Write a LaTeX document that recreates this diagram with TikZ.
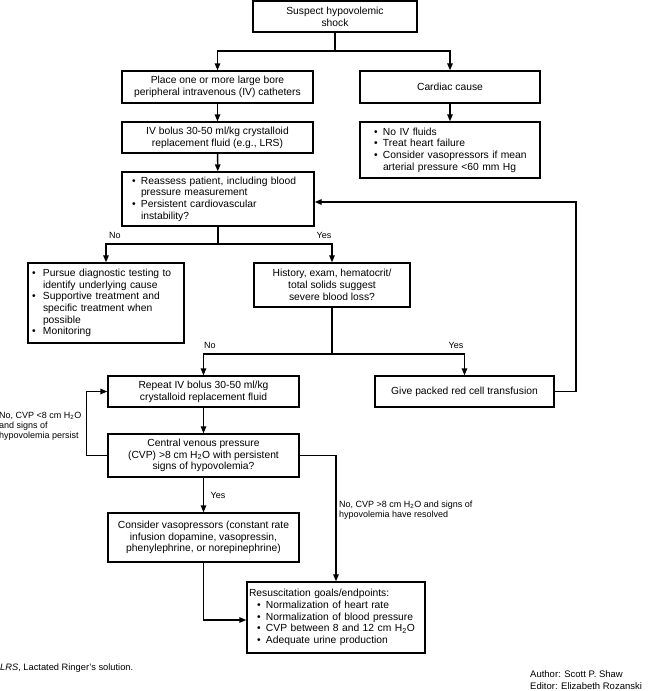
\documentclass[tikz,border=0pt]{standalone}
\usepackage{fontspec}
\setmainfont{Liberation Sans}
\usetikzlibrary{arrows.meta}
\newcommand{\bl}[1]{\mbox{\makebox[9pt][l]{\textbullet}#1}}
\newcommand{\cl}[1]{\mbox{\hspace*{9pt}#1}}
\newcommand{\blw}[1]{\mbox{\makebox[11pt][l]{\textbullet}#1}}
\newcommand{\clw}[1]{\mbox{\hspace*{11pt}#1}}
\begin{document}
\begin{tikzpicture}[x=1pt,y=-1pt,
  box/.style={draw, line width=1.4pt, inner sep=0pt, font=\fontsize{10.3}{11.7}\selectfont},
  cbox/.style={box, align=center},
  arr/.style={line width=1.4pt, -{Triangle[length=7pt,width=5.5pt]}},
  ln/.style={line width=1.4pt},
  lbl/.style={font=\fontsize{9}{10}\selectfont, inner sep=0pt}]
\useasboundingbox (0,0) rectangle (650,691);

% boxes
\node[cbox, minimum width=164pt, minimum height=31pt] (top) at (335,16.5) {Suspect hypovolemic\\shock};
\node[cbox, minimum width=191pt, minimum height=32pt] (place) at (217.5,87) {Place one or more large bore\\peripheral intravenous (IV) catheters};
\node[cbox, minimum width=180pt, minimum height=32pt] (cardiac) at (450,87) {Cardiac cause};
\node[cbox, minimum width=191pt, minimum height=31pt] (ivbolus) at (217.5,137.5) {IV bolus 30-50 ml/kg crystalloid\\replacement fluid (e.g., LRS)};
\node[box, align=left, inner xsep=14pt, text width=152pt, minimum width=180pt, minimum height=56pt] (noiv) at (450,150)
  {\bl{No IV fluids}\\\bl{Treat heart failure}\\\bl{Consider vasopressors if mean}\\\cl{arterial pressure <60 mm Hg}};
\node[box, align=left, inner xsep=10pt, text width=172pt, minimum width=192pt, minimum height=54pt] (reassess) at (218,199)
  {\bl{Reassess patient, including blood}\\\cl{pressure measurement}\\\bl{Persistent cardiovascular}\\\cl{instability?}};
\node[box, align=left, inner xsep=4pt, text width=148pt, minimum width=156pt, minimum height=80pt] (pursue) at (106,303)
  {\blw{Pursue diagnostic testing to}\\\clw{identify underlying cause}\\\blw{Supportive treatment and}\\\clw{specific treatment when}\\\clw{possible}\\\blw{Monitoring}};
\node[cbox, minimum width=156pt, minimum height=44pt] (history) at (332,285) {History, exam, hematocrit/\\total solids suggest\\severe blood loss?};
\node[cbox, minimum width=191pt, minimum height=31pt] (repeat) at (203.5,391.5) {Repeat IV bolus 30-50 ml/kg\\crystalloid replacement fluid};
\node[cbox, minimum width=179pt, minimum height=31pt] (give) at (464.5,391.5) {Give packed red cell transfusion};
\node[cbox, minimum width=191pt, minimum height=43pt] (central) at (203.5,455.5) {Central venous pressure\\(CVP) >8 cm H\textsubscript{2}O with persistent\\signs of hypovolemia?};
\node[cbox, minimum width=191pt, minimum height=49pt] (consider) at (203.5,537.5) {Consider vasopressors (constant rate\\infusion dopamine, vasopressin,\\phenylephrine, or norepinephrine)};
\node[box, align=left, inner xsep=2pt, text width=174pt, minimum width=178pt, minimum height=71pt] (resusc) at (336,617.5)
  {Resuscitation goals/endpoints:\\\hspace*{8pt}\bl{Normalization of heart rate}\\\hspace*{8pt}\bl{Normalization of blood pressure}\\\hspace*{8pt}\bl{CVP between 8 and 12 cm H\textsubscript{2}O}\\\hspace*{8pt}\bl{Adequate urine production}};

% junction points
\coordinate (j1) at (335,51);
\coordinate (j2) at (218,244);
\coordinate (j3) at (332,354);
\coordinate (fb) at (576,202);

% connectors
\draw[ln] (top.south) -- (j1);
\draw[arr] (j1) -| (place.north);
\draw[arr] (j1) -| (cardiac.north);
\draw[arr] (place) -- (ivbolus);
\draw[arr] (cardiac) -- (noiv);
\draw[arr] (ivbolus) -- (reassess);
\draw[ln] (reassess.south) -- (j2);
\draw[arr] (j2) -| (pursue.north);
\draw[arr] (j2) -| (history.north);
\draw[ln] (history.south) -- (j3);
\draw[arr] (j3) -| (repeat.north);
\draw[arr] (j3) -| (give.north);
\draw[arr] (give.east) -| (fb) -- (reassess.east |- fb);
\draw[arr] (repeat) -- (central);
\draw[arr] (central.west) -- ++(-21,0) |- (repeat.west);
\draw[arr] (central.east) -| (resusc.north);
\draw[arr] (central) -- (consider);
\draw[arr] (consider.south) |- ([yshift=-2.5pt]resusc.west);

% labels
\node[lbl] (lno1) at (115,235) {No};
\node[lbl] (lyes1) at (324,235) {Yes};
\node[lbl] (lno2) at (210,345) {No};
\node[lbl] (lyes2) at (456,345) {Yes};
\node[lbl] (lyes3) at (218,495) {Yes};
\node[lbl, align=left, anchor=west] (lloop) at (-1,426) {No, CVP <8 cm H\textsubscript{2}O\\and signs of\\hypovolemia persist};
\node[lbl, align=left, anchor=west] (lres) at (339,510.5) {No, CVP >8 cm H\textsubscript{2}O and signs of\\hypovolemia have resolved};

% footnotes
\node[font=\fontsize{9.3}{11}\selectfont, inner sep=0pt, anchor=west] (lrs) at (0,668) {\textit{LRS}, Lactated Ringer's solution.};
\node[font=\fontsize{9.5}{12}\selectfont, inner sep=0pt, anchor=west, align=left] (auth) at (530,680.5) {Author: Scott P. Shaw\\Editor: Elizabeth Rozanski};
\end{tikzpicture}
\end{document}
